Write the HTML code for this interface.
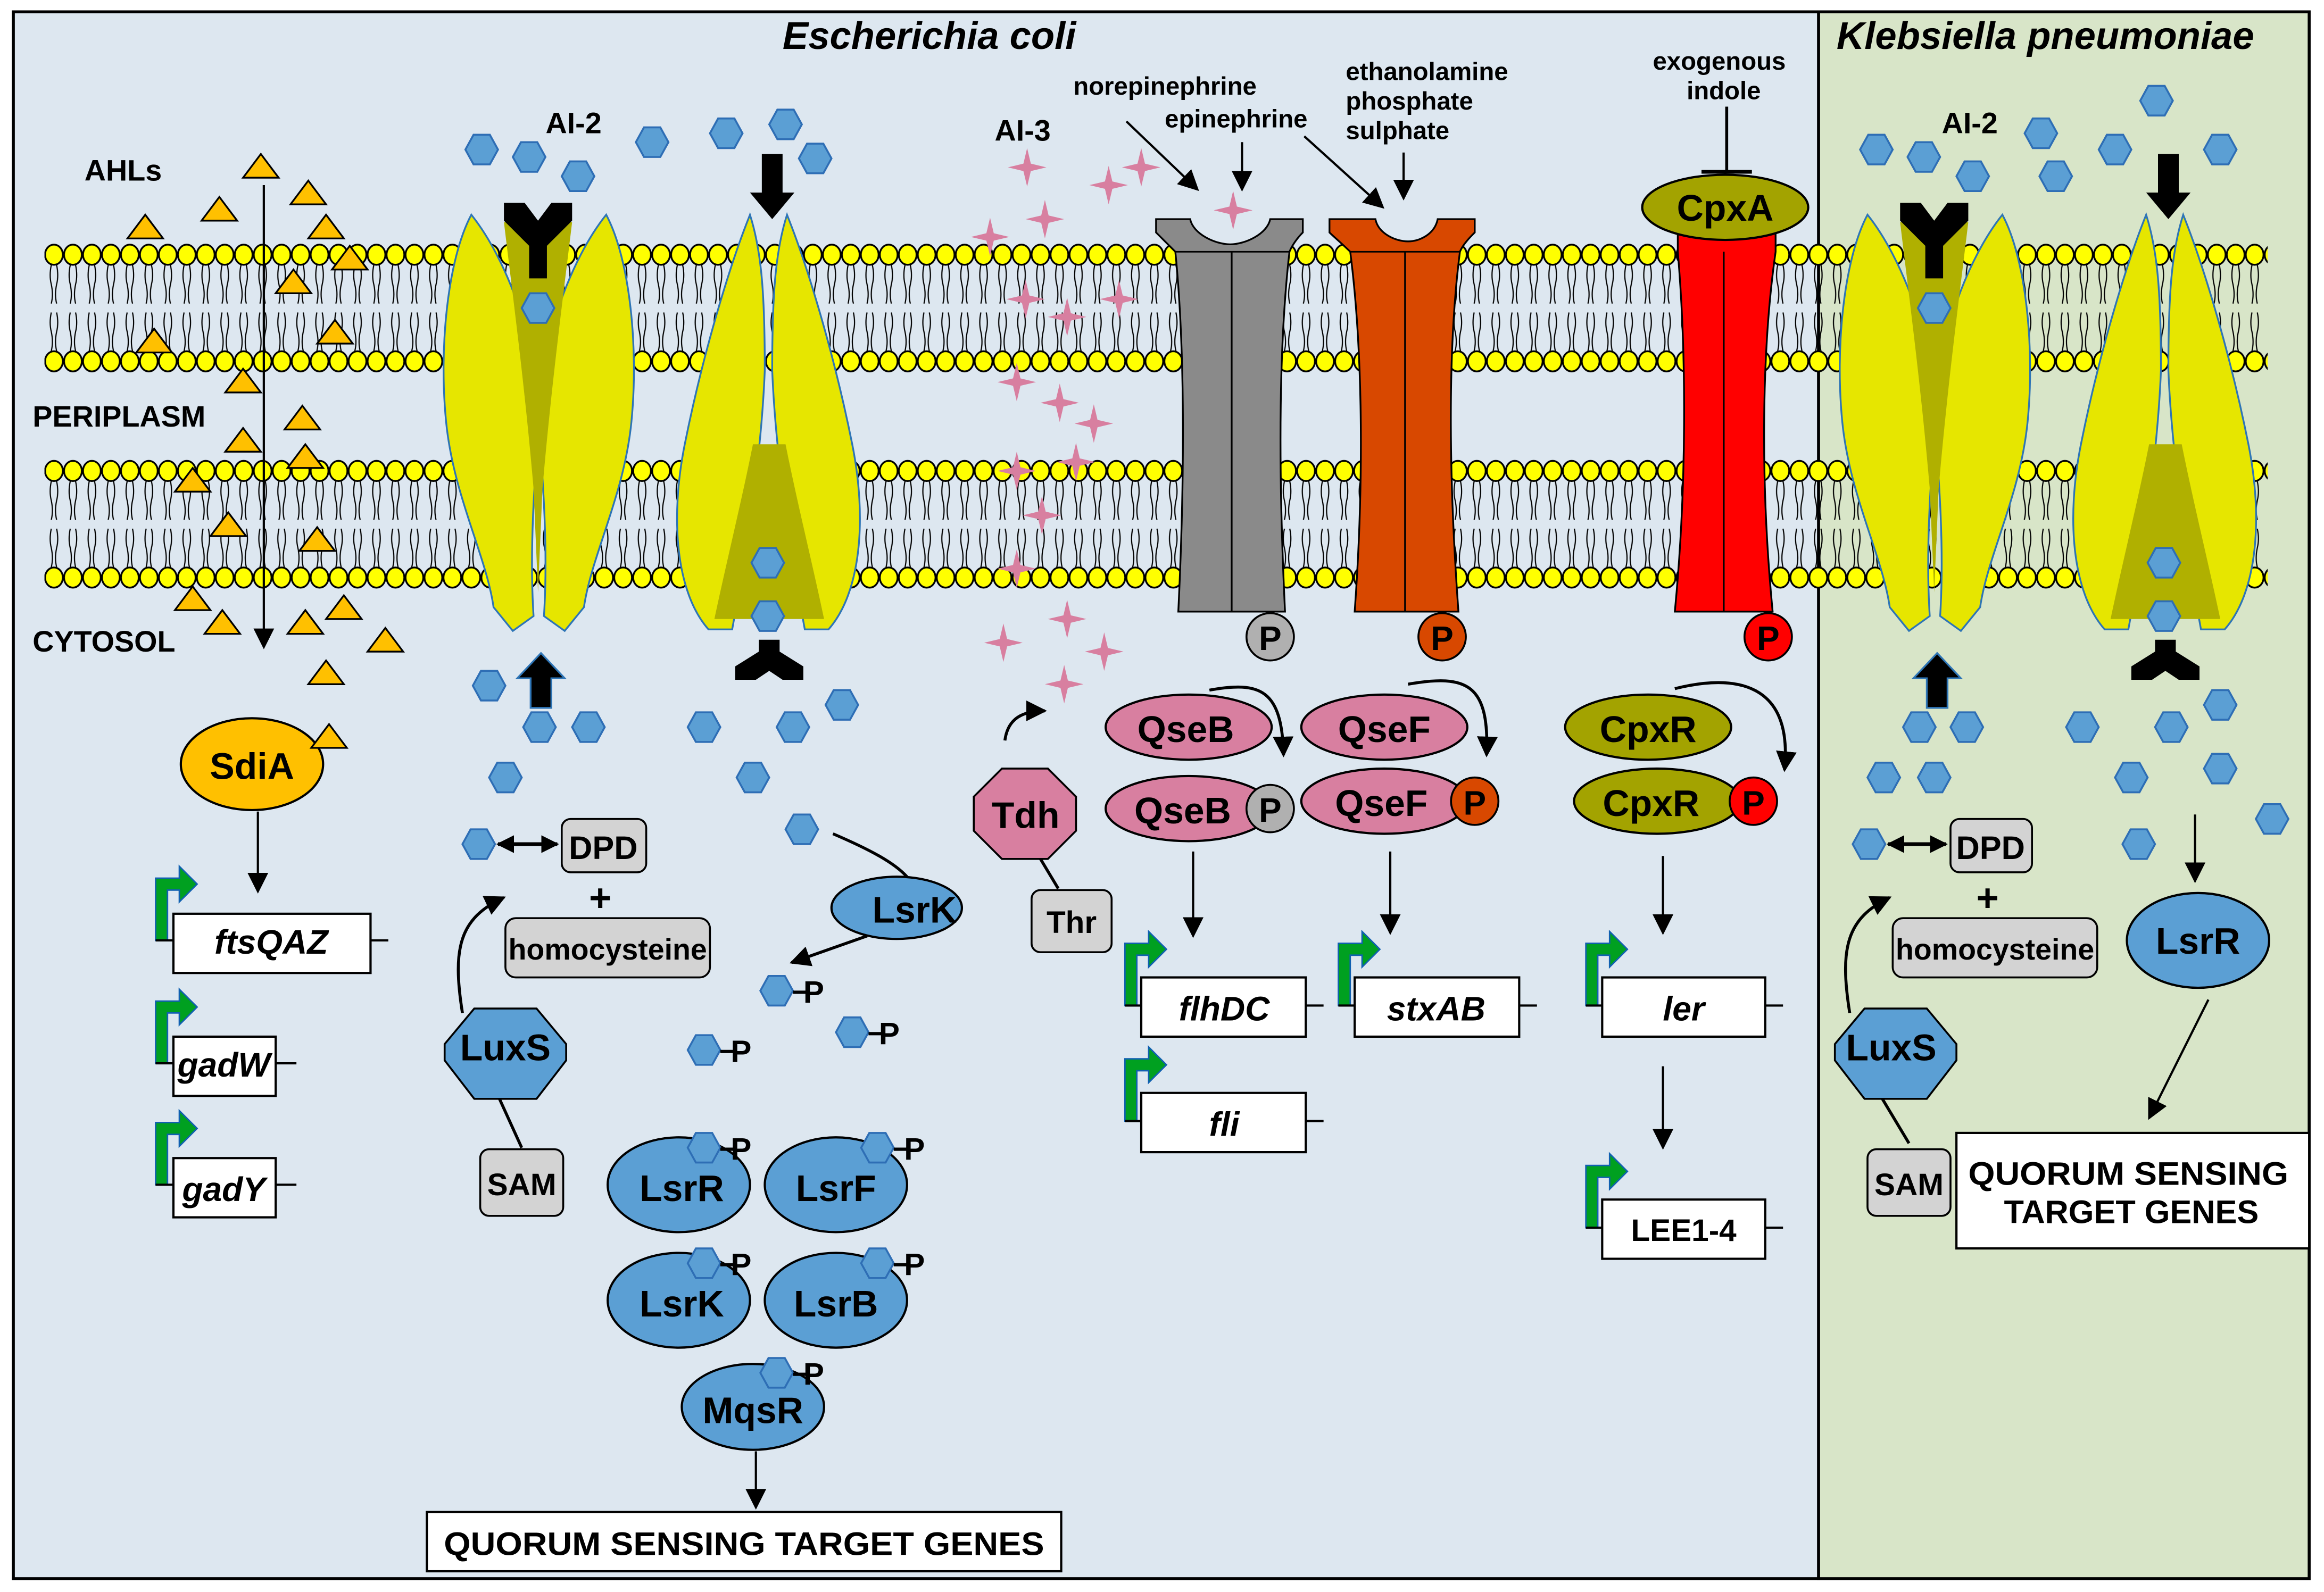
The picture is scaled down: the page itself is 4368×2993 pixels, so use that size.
<!DOCTYPE html>
<html><head><meta charset="utf-8"><style>
html,body{margin:0;padding:0;background:#fff}
svg{display:block}
text{font-family:"Liberation Sans",sans-serif;font-weight:bold;fill:#000}
</style></head><body>
<svg width="4368" height="2993" viewBox="0 0 1568 1075" preserveAspectRatio="none" xmlns="http://www.w3.org/2000/svg">
<defs>
<pattern id="lip" patternUnits="userSpaceOnUse" x="30" y="164" width="12.8" height="88">
<ellipse cx="6.4" cy="8" rx="6" ry="6.8" fill="#ffff00" stroke="#000" stroke-width="1.2"/>
<ellipse cx="6.4" cy="80" rx="6" ry="6.8" fill="#ffff00" stroke="#000" stroke-width="1.2"/>
<path d="M4.6 15 q-1.5 7 0 13 q1.5 7 0 13 M8.2 15 q1.5 7 0 13 q-1.5 7 0 13 M4.6 47 q-1.5 7 0 13 q1.5 7 0 13 M8.2 47 q1.5 7 0 13 q-1.5 7 0 13" fill="none" stroke="#000" stroke-width="0.8"/>
</pattern>
<pattern id="lip2" patternUnits="userSpaceOnUse" x="30" y="310" width="12.8" height="88">
<ellipse cx="6.4" cy="8" rx="6" ry="6.8" fill="#ffff00" stroke="#000" stroke-width="1.2"/>
<ellipse cx="6.4" cy="80" rx="6" ry="6.8" fill="#ffff00" stroke="#000" stroke-width="1.2"/>
<path d="M4.6 15 q-1.5 7 0 13 q1.5 7 0 13 M8.2 15 q1.5 7 0 13 q-1.5 7 0 13 M4.6 47 q-1.5 7 0 13 q1.5 7 0 13 M8.2 47 q1.5 7 0 13 q-1.5 7 0 13" fill="none" stroke="#000" stroke-width="0.8"/>
</pattern>
<polygon id="hx" points="-11,0 -5.5,-10 5.5,-10 11,0 5.5,10 -5.5,10" fill="#5b9fd4" stroke="#2e6eb5" stroke-width="1.3"/>
<polygon id="tri" points="-12,8 0,-8 12,8" fill="#ffc000" stroke="#000" stroke-width="1.2"/>
<path id="star" d="M0,-13 L2.5,-2.5 L13,0 L2.5,2.5 L0,13 L-2.5,2.5 L-13,0 L-2.5,-2.5 Z" fill="#d87fa0"/>
<g id="hp"><use href="#hx"/><line x1="11" y1="1" x2="20" y2="1" stroke="#000" stroke-width="2.2"/><text x="18" y="8" font-size="21">P</text></g>
<marker id="ar" viewBox="0 0 10 10" refX="9" refY="5" markerWidth="12" markerHeight="12" orient="auto-start-reverse" markerUnits="userSpaceOnUse"><path d="M0,0 L10,5 L0,10 Z"/></marker>
<marker id="arb" viewBox="0 0 10 10" refX="9" refY="5" markerWidth="14" markerHeight="14" orient="auto-start-reverse" markerUnits="userSpaceOnUse"><path d="M0,0 L10,5 L0,10 Z"/></marker>
<g id="prom"><path d="M0,42 V0 H16 V-8 L28,4 L16,16 V8 H8 V42 Z" fill="#00a020" stroke="#1060b0" stroke-width="1"/></g>
<g id="T1">
<path id="T1l" d="M318,145 C302,175 296,235 301,285 C306,335 328,375 333,410 L346,426 L360,416 C357,370 361,320 364,280 C362,230 342,175 318,145 Z" fill="#e6e600" stroke="#2e75b6" stroke-width="1.2"/>
<use href="#T1l" transform="translate(727,0) scale(-1,1)"/>
<path d="M340,150 L386,150 C380,200 372,260 366,330 L363,400 L360,330 C354,260 346,200 340,150 Z" fill="#b0b000"/>
<path d="M340,137 h14 l9,12 l9,-12 h14 v12 l-17,17 v22 h-12 v-22 l-17,-17 Z" fill="#000"/>
<use href="#hx" x="363" y="208"/>
<path d="M358,478 V458 H349 L365,441 L381,458 H372 V478 Z" fill="#000" stroke="#2e75b6" stroke-width="1.2"/>
</g>
<g id="T2">
<path id="T2l" d="M506,145 C492,180 474,240 462,300 C452,350 456,400 478,425 L494,425 C506,360 514,300 516,250 C516,200 514,170 506,145 Z" fill="#e6e600" stroke="#2e75b6" stroke-width="1.2"/>
<use href="#T2l" transform="translate(1037,0) scale(-1,1)"/>
<path d="M508,300 L530,300 C538,340 548,380 556,418 L482,418 C490,380 500,340 508,300 Z" fill="#b0b000"/>
<use href="#hx" x="518" y="380"/>
<use href="#hx" x="518" y="416"/>
<path d="M514,104 V130 H506 L521,148 L536,130 H528 V104 Z" fill="#000"/>
<path d="M512,432 h14 v8 l16,10 v9 h-14 l-9,-6 l-9,6 h-14 v-9 l16,-10 Z" fill="#000"/>
</g>
</defs>

<rect x="0" y="0" width="1568" height="1075" fill="#fff"/>
<rect x="9" y="8" width="1218" height="1058" fill="#dde7f0" stroke="#000" stroke-width="2"/>
<rect x="1227" y="8" width="331" height="1058" fill="#d8e5c8" stroke="#000" stroke-width="2"/>

<text x="627" y="33" font-size="26" font-style="italic" text-anchor="middle">Escherichia coli</text>
<text x="1380" y="33" font-size="26" font-style="italic" text-anchor="middle">Klebsiella pneumoniae</text>

<rect x="30" y="164" width="1500" height="88" fill="url(#lip)"/>
<rect x="30" y="310" width="1500" height="88" fill="url(#lip2)"/>

<use href="#T1"/><use href="#T2"/>
<use href="#T1" x="942"/><use href="#T2" x="942"/>

<text x="57" y="122" font-size="20">AHLs</text>
<text x="22" y="288" font-size="20">PERIPLASM</text>
<text x="22" y="440" font-size="20">CYTOSOL</text>
<line x1="178" y1="125" x2="178" y2="437" stroke="#000" stroke-width="1.5" marker-end="url(#arb)"/>
<g>
<use href="#tri" x="176" y="112"/><use href="#tri" x="208" y="130"/><use href="#tri" x="148" y="141"/><use href="#tri" x="98" y="153"/><use href="#tri" x="220" y="153"/><use href="#tri" x="236" y="174"/><use href="#tri" x="198" y="190"/><use href="#tri" x="104" y="230"/><use href="#tri" x="226" y="224"/><use href="#tri" x="164" y="257"/><use href="#tri" x="204" y="282"/><use href="#tri" x="164" y="297"/><use href="#tri" x="206" y="308"/><use href="#tri" x="130" y="324"/><use href="#tri" x="154" y="354"/><use href="#tri" x="214" y="364"/><use href="#tri" x="130" y="404"/><use href="#tri" x="150" y="420"/><use href="#tri" x="206" y="420"/><use href="#tri" x="232" y="410"/><use href="#tri" x="260" y="432"/><use href="#tri" x="220" y="454"/>
</g>
<ellipse cx="170" cy="516" rx="48" ry="31" fill="#ffc000" stroke="#000" stroke-width="1.5"/>
<use href="#tri" x="222" y="497"/>
<text x="170" y="526" font-size="25" text-anchor="middle">SdiA</text>
<line x1="174" y1="548" x2="174" y2="602" stroke="#000" stroke-width="1.5" marker-end="url(#arb)"/>

<use href="#prom" x="105" y="593"/>
<line x1="105" y1="635" x2="117" y2="635" stroke="#000" stroke-width="1.5"/>
<rect x="117" y="617" width="133" height="40" fill="#fff" stroke="#000" stroke-width="1.5"/>
<line x1="250" y1="635" x2="262" y2="635" stroke="#000" stroke-width="1.5"/>
<text x="183" y="644" font-size="23" font-style="italic" text-anchor="middle">ftsQAZ</text>
<use href="#prom" x="105" y="676"/>
<line x1="105" y1="718" x2="117" y2="718" stroke="#000" stroke-width="1.5"/>
<rect x="117" y="700" width="69" height="40" fill="#fff" stroke="#000" stroke-width="1.5"/>
<line x1="186" y1="718" x2="200" y2="718" stroke="#000" stroke-width="1.5"/>
<text x="151" y="727" font-size="23" font-style="italic" text-anchor="middle">gadW</text>
<use href="#prom" x="105" y="758"/>
<line x1="105" y1="800" x2="117" y2="800" stroke="#000" stroke-width="1.5"/>
<rect x="117" y="782" width="69" height="40" fill="#fff" stroke="#000" stroke-width="1.5"/>
<line x1="186" y1="800" x2="200" y2="800" stroke="#000" stroke-width="1.5"/>
<text x="151" y="811" font-size="23" font-style="italic" text-anchor="middle">gadY</text>

<text x="387" y="90" font-size="20" text-anchor="middle">AI-2</text>
<g>
<use href="#hx" x="325" y="101"/><use href="#hx" x="357" y="106"/><use href="#hx" x="390" y="119"/><use href="#hx" x="440" y="96"/><use href="#hx" x="490" y="90"/><use href="#hx" x="530" y="84"/><use href="#hx" x="550" y="107"/>
<use href="#hx" x="330" y="463"/><use href="#hx" x="364" y="491"/><use href="#hx" x="397" y="491"/><use href="#hx" x="341" y="525"/>
<use href="#hx" x="475" y="491"/><use href="#hx" x="535" y="491"/><use href="#hx" x="568" y="476"/><use href="#hx" x="508" y="525"/><use href="#hx" x="541" y="560"/>
<use href="#hx" x="323" y="570"/>
</g>
<line x1="336" y1="570" x2="376" y2="570" stroke="#000" stroke-width="2.5" marker-start="url(#ar)" marker-end="url(#ar)"/>
<rect x="379" y="553" width="57" height="36" rx="6" fill="#d3d3d3" stroke="#000" stroke-width="1.3"/>
<text x="407" y="580" font-size="22" text-anchor="middle">DPD</text>
<text x="405" y="615" font-size="26" font-weight="normal" text-anchor="middle">+</text>
<rect x="341" y="620" width="138" height="40" rx="7" fill="#d3d3d3" stroke="#000" stroke-width="1.3"/>
<text x="410" y="648" font-size="20" text-anchor="middle" textLength="134" lengthAdjust="spacingAndGlyphs">homocysteine</text>
<polygon points="320,681 362,681 382,705 382,716 362,742 320,742 300,716 300,705" fill="#5b9fd4" stroke="#000" stroke-width="1.3"/>
<text x="341" y="716" font-size="25" text-anchor="middle">LuxS</text>
<path d="M312,684 C305,640 310,620 340,606" fill="none" stroke="#000" stroke-width="2" marker-end="url(#arb)"/>
<line x1="337" y1="742" x2="352" y2="775" stroke="#000" stroke-width="2"/>
<rect x="324" y="776" width="56" height="45" rx="6" fill="#d3d3d3" stroke="#000" stroke-width="1.3"/>
<text x="352" y="807" font-size="21" text-anchor="middle">SAM</text>

<path d="M562,563 C590,575 608,585 615,596" fill="none" stroke="#000" stroke-width="2"/>
<ellipse cx="605" cy="613" rx="44" ry="21" fill="#5b9fd4" stroke="#000" stroke-width="1.5"/>
<text x="617" y="623" font-size="25" text-anchor="middle">LsrK</text>
<line x1="585" y1="632" x2="534" y2="650" stroke="#000" stroke-width="2" marker-end="url(#arb)"/>
<use href="#hp" x="524" y="669"/><use href="#hp" x="575" y="697"/><use href="#hp" x="475" y="709"/>

<ellipse cx="458" cy="800" rx="48" ry="32" fill="#5b9fd4" stroke="#000" stroke-width="1.5"/>
<ellipse cx="564" cy="800" rx="48" ry="32" fill="#5b9fd4" stroke="#000" stroke-width="1.5"/>
<ellipse cx="458" cy="878" rx="48" ry="32" fill="#5b9fd4" stroke="#000" stroke-width="1.5"/>
<ellipse cx="564" cy="878" rx="48" ry="32" fill="#5b9fd4" stroke="#000" stroke-width="1.5"/>
<ellipse cx="508" cy="950" rx="48" ry="29" fill="#5b9fd4" stroke="#000" stroke-width="1.5"/>
<text x="460" y="811" font-size="25" text-anchor="middle">LsrR</text>
<text x="564" y="811" font-size="25" text-anchor="middle">LsrF</text>
<text x="460" y="889" font-size="25" text-anchor="middle">LsrK</text>
<text x="564" y="889" font-size="25" text-anchor="middle">LsrB</text>
<text x="508" y="961" font-size="25" text-anchor="middle">MqsR</text>
<use href="#hp" x="475" y="775"/><use href="#hp" x="592" y="775"/><use href="#hp" x="475" y="853"/><use href="#hp" x="592" y="853"/><use href="#hp" x="524" y="927"/>
<line x1="510" y1="980" x2="510" y2="1018" stroke="#000" stroke-width="1.5" marker-end="url(#arb)"/>
<rect x="288" y="1021" width="428" height="40" fill="#fff" stroke="#000" stroke-width="1.5"/>
<text x="502" y="1050" font-size="22" text-anchor="middle" textLength="405" lengthAdjust="spacingAndGlyphs">QUORUM SENSING TARGET GENES</text>

<text x="690" y="95" font-size="20" text-anchor="middle">AI-3</text>
<g>
<use href="#star" x="693" y="113"/><use href="#star" x="748" y="125"/><use href="#star" x="770" y="113"/><use href="#star" x="668" y="160"/><use href="#star" x="705" y="148"/><use href="#star" x="755" y="202"/><use href="#star" x="692" y="202"/><use href="#star" x="720" y="214"/><use href="#star" x="686" y="258"/><use href="#star" x="715" y="272"/><use href="#star" x="738" y="286"/><use href="#star" x="686" y="318"/><use href="#star" x="726" y="312"/><use href="#star" x="703" y="348"/><use href="#star" x="686" y="384"/><use href="#star" x="720" y="418"/><use href="#star" x="677" y="434"/><use href="#star" x="745" y="440"/><use href="#star" x="718" y="462"/><use href="#star" x="832" y="142"/>
</g>
<path d="M678,500 C680,485 690,480 705,480" fill="none" stroke="#000" stroke-width="2" marker-end="url(#arb)"/>
<polygon points="676,519 707,519 726,538 726,561 707,580 676,580 657,561 657,538" fill="#d87fa0" stroke="#000" stroke-width="1.3"/>
<text x="692" y="559" font-size="25" text-anchor="middle">Tdh</text>
<line x1="702" y1="580" x2="714" y2="600" stroke="#000" stroke-width="2"/>
<rect x="696" y="601" width="54" height="42" rx="6" fill="#d3d3d3" stroke="#000" stroke-width="1.3"/>
<text x="723" y="630" font-size="21" text-anchor="middle">Thr</text>

<text x="786" y="64" font-size="17" text-anchor="middle">norepinephrine</text>
<text x="834" y="86" font-size="17" text-anchor="middle">epinephrine</text>
<line x1="760" y1="82" x2="808" y2="128" stroke="#000" stroke-width="1.5" marker-end="url(#arb)"/>
<line x1="838" y1="96" x2="838" y2="128" stroke="#000" stroke-width="1.5" marker-end="url(#arb)"/>
<text x="908" y="54" font-size="17">ethanolamine</text>
<text x="908" y="74" font-size="17">phosphate</text>
<text x="908" y="94" font-size="17">sulphate</text>
<line x1="880" y1="92" x2="933" y2="140" stroke="#000" stroke-width="1.5" marker-end="url(#arb)"/>
<line x1="947" y1="103" x2="947" y2="134" stroke="#000" stroke-width="1.5" marker-end="url(#arb)"/>
<text x="1160" y="47" font-size="17" text-anchor="middle">exogenous</text>
<text x="1163" y="67" font-size="17" text-anchor="middle">indole</text>
<line x1="1165" y1="72" x2="1165" y2="115" stroke="#000" stroke-width="2"/>
<line x1="1148" y1="116" x2="1182" y2="116" stroke="#000" stroke-width="2.5"/>

<path d="M780,148 H803 C805,158 820,165 830,165 C840,165 855,158 857,148 H879 V157 C876,160 872,165 870,170 C862,240 863,330 867,413 H795 C799,330 800,240 793,170 C788,165 783,160 780,157 Z" fill="#8a8a8a" stroke="#000" stroke-width="1.2"/>
<line x1="831" y1="170" x2="831" y2="413" stroke="#000" stroke-width="1.2"/>
<line x1="793" y1="170" x2="870" y2="170" stroke="#000" stroke-width="1"/>
<use href="#star" x="832" y="142"/>
<circle cx="857" cy="430" r="16" fill="#b0b0b0" stroke="#000" stroke-width="1.3"/>
<text x="857" y="439" font-size="23" text-anchor="middle">P</text>
<path d="M897,148 H928 C930,158 942,163 950,163 C958,163 968,158 970,148 H995 V157 C992,160 987,165 985,170 C976,240 978,330 984,413 H914 C920,330 920,240 911,170 C906,165 900,160 897,157 Z" fill="#d84800" stroke="#000" stroke-width="1.2"/>
<line x1="948" y1="170" x2="948" y2="413" stroke="#000" stroke-width="1.2"/>
<line x1="911" y1="170" x2="985" y2="170" stroke="#000" stroke-width="1"/>
<circle cx="973" cy="430" r="16" fill="#d84800" stroke="#000" stroke-width="1.3"/>
<text x="973" y="439" font-size="23" text-anchor="middle">P</text>
<path d="M1132,155 H1198 V170 C1188,240 1188,330 1196,413 H1130 C1138,330 1138,240 1132,170 Z" fill="#ff0000" stroke="#000" stroke-width="1.2"/>
<line x1="1163" y1="170" x2="1163" y2="413" stroke="#000" stroke-width="1.2"/>
<ellipse cx="1164" cy="140" rx="56" ry="22" fill="#a3a300" stroke="#000" stroke-width="1.5"/>
<text x="1164" y="149" font-size="25" text-anchor="middle">CpxA</text>
<circle cx="1193" cy="430" r="16" fill="#ff0000" stroke="#000" stroke-width="1.3"/>
<text x="1193" y="439" font-size="23" text-anchor="middle">P</text>

<ellipse cx="802" cy="491" rx="56" ry="22" fill="#d87fa0" stroke="#000" stroke-width="1.5"/>
<text x="800" y="501" font-size="25" text-anchor="middle">QseB</text>
<ellipse cx="802" cy="546" rx="56" ry="22" fill="#d87fa0" stroke="#000" stroke-width="1.5"/>
<text x="798" y="556" font-size="25" text-anchor="middle">QseB</text>
<circle cx="857" cy="546" r="16" fill="#b0b0b0" stroke="#000" stroke-width="1.3"/>
<text x="857" y="555" font-size="23" text-anchor="middle">P</text>
<path d="M816,466 C850,460 865,465 866,510" fill="none" stroke="#000" stroke-width="2" marker-end="url(#arb)"/>
<ellipse cx="934" cy="491" rx="56" ry="22" fill="#d87fa0" stroke="#000" stroke-width="1.5"/>
<text x="934" y="501" font-size="25" text-anchor="middle">QseF</text>
<ellipse cx="934" cy="541" rx="56" ry="22" fill="#d87fa0" stroke="#000" stroke-width="1.5"/>
<text x="932" y="551" font-size="25" text-anchor="middle">QseF</text>
<circle cx="995" cy="541" r="16" fill="#d84800" stroke="#000" stroke-width="1.3"/>
<text x="995" y="550" font-size="23" text-anchor="middle">P</text>
<path d="M950,462 C990,455 1005,462 1003,510" fill="none" stroke="#000" stroke-width="2" marker-end="url(#arb)"/>
<ellipse cx="1112" cy="491" rx="56" ry="22" fill="#a3a300" stroke="#000" stroke-width="1.5"/>
<text x="1112" y="501" font-size="25" text-anchor="middle">CpxR</text>
<ellipse cx="1118" cy="541" rx="56" ry="22" fill="#a3a300" stroke="#000" stroke-width="1.5"/>
<text x="1114" y="551" font-size="25" text-anchor="middle">CpxR</text>
<circle cx="1183" cy="541" r="16" fill="#ff0000" stroke="#000" stroke-width="1.3"/>
<text x="1183" y="550" font-size="23" text-anchor="middle">P</text>
<path d="M1130,465 C1170,455 1210,460 1204,520" fill="none" stroke="#000" stroke-width="2" marker-end="url(#arb)"/>

<line x1="805" y1="575" x2="805" y2="632" stroke="#000" stroke-width="1.5" marker-end="url(#arb)"/>
<use href="#prom" x="759" y="637"/>
<line x1="759" y1="679" x2="770" y2="679" stroke="#000" stroke-width="1.5"/>
<rect x="770" y="660" width="111" height="40" fill="#fff" stroke="#000" stroke-width="1.5"/>
<line x1="881" y1="679" x2="893" y2="679" stroke="#000" stroke-width="1.5"/>
<text x="826" y="689" font-size="23" font-style="italic" text-anchor="middle">flhDC</text>
<use href="#prom" x="759" y="715"/>
<line x1="759" y1="757" x2="770" y2="757" stroke="#000" stroke-width="1.5"/>
<rect x="770" y="738" width="111" height="40" fill="#fff" stroke="#000" stroke-width="1.5"/>
<line x1="881" y1="757" x2="893" y2="757" stroke="#000" stroke-width="1.5"/>
<text x="826" y="767" font-size="23" font-style="italic" text-anchor="middle">fli</text>
<line x1="938" y1="575" x2="938" y2="630" stroke="#000" stroke-width="1.5" marker-end="url(#arb)"/>
<use href="#prom" x="903" y="637"/>
<line x1="903" y1="679" x2="914" y2="679" stroke="#000" stroke-width="1.5"/>
<rect x="914" y="660" width="111" height="40" fill="#fff" stroke="#000" stroke-width="1.5"/>
<line x1="1025" y1="679" x2="1037" y2="679" stroke="#000" stroke-width="1.5"/>
<text x="969" y="689" font-size="23" font-style="italic" text-anchor="middle">stxAB</text>
<line x1="1122" y1="578" x2="1122" y2="630" stroke="#000" stroke-width="1.5" marker-end="url(#arb)"/>
<use href="#prom" x="1070" y="637"/>
<line x1="1070" y1="679" x2="1081" y2="679" stroke="#000" stroke-width="1.5"/>
<rect x="1081" y="660" width="110" height="40" fill="#fff" stroke="#000" stroke-width="1.5"/>
<line x1="1191" y1="679" x2="1203" y2="679" stroke="#000" stroke-width="1.5"/>
<text x="1136" y="689" font-size="23" font-style="italic" text-anchor="middle">ler</text>
<line x1="1122" y1="720" x2="1122" y2="775" stroke="#000" stroke-width="1.5" marker-end="url(#arb)"/>
<use href="#prom" x="1070" y="787"/>
<line x1="1070" y1="829" x2="1081" y2="829" stroke="#000" stroke-width="1.5"/>
<rect x="1081" y="810" width="110" height="40" fill="#fff" stroke="#000" stroke-width="1.5"/>
<line x1="1191" y1="829" x2="1203" y2="829" stroke="#000" stroke-width="1.5"/>
<text x="1136" y="838" font-size="21" text-anchor="middle">LEE1-4</text>

<text x="1329" y="90" font-size="20" text-anchor="middle">AI-2</text>
<g>
<use href="#hx" x="1266" y="101"/><use href="#hx" x="1298" y="106"/><use href="#hx" x="1331" y="119"/><use href="#hx" x="1377" y="90"/><use href="#hx" x="1387" y="119"/><use href="#hx" x="1427" y="101"/><use href="#hx" x="1455" y="68"/><use href="#hx" x="1498" y="101"/>
<use href="#hx" x="1295" y="491"/><use href="#hx" x="1327" y="491"/><use href="#hx" x="1271" y="525"/><use href="#hx" x="1305" y="525"/>
<use href="#hx" x="1405" y="491"/><use href="#hx" x="1465" y="491"/><use href="#hx" x="1498" y="476"/><use href="#hx" x="1438" y="525"/><use href="#hx" x="1498" y="519"/><use href="#hx" x="1533" y="553"/><use href="#hx" x="1443" y="570"/>
<use href="#hx" x="1261" y="570"/>
</g>
<line x1="1274" y1="570" x2="1313" y2="570" stroke="#000" stroke-width="2.5" marker-start="url(#ar)" marker-end="url(#ar)"/>
<rect x="1316" y="553" width="55" height="36" rx="6" fill="#d3d3d3" stroke="#000" stroke-width="1.3"/>
<text x="1343" y="580" font-size="22" text-anchor="middle">DPD</text>
<text x="1341" y="615" font-size="26" font-weight="normal" text-anchor="middle">+</text>
<rect x="1277" y="620" width="138" height="40" rx="7" fill="#d3d3d3" stroke="#000" stroke-width="1.3"/>
<text x="1346" y="648" font-size="20" text-anchor="middle" textLength="134" lengthAdjust="spacingAndGlyphs">homocysteine</text>
<polygon points="1258,681 1300,681 1320,705 1320,716 1300,742 1258,742 1238,716 1238,705" fill="#5b9fd4" stroke="#000" stroke-width="1.3"/>
<text x="1276" y="716" font-size="25" text-anchor="middle">LuxS</text>
<path d="M1248,684 C1241,640 1246,620 1275,606" fill="none" stroke="#000" stroke-width="2" marker-end="url(#arb)"/>
<line x1="1270" y1="742" x2="1288" y2="772" stroke="#000" stroke-width="2"/>
<rect x="1260" y="776" width="56" height="45" rx="6" fill="#d3d3d3" stroke="#000" stroke-width="1.3"/>
<text x="1288" y="807" font-size="21" text-anchor="middle">SAM</text>
<line x1="1481" y1="550" x2="1481" y2="595" stroke="#000" stroke-width="1.5" marker-end="url(#arb)"/>
<ellipse cx="1483" cy="635" rx="48" ry="32" fill="#5b9fd4" stroke="#000" stroke-width="1.5"/>
<text x="1483" y="644" font-size="25" text-anchor="middle">LsrR</text>
<line x1="1490" y1="675" x2="1450" y2="755" stroke="#000" stroke-width="1.5" marker-end="url(#arb)"/>
<rect x="1320" y="765" width="238" height="78" fill="#fff" stroke="#000" stroke-width="1.5"/>
<text x="1436" y="800" font-size="22" text-anchor="middle" textLength="216" lengthAdjust="spacingAndGlyphs">QUORUM SENSING</text>
<text x="1438" y="826" font-size="22" text-anchor="middle">TARGET GENES</text>
</svg>
</body></html>
